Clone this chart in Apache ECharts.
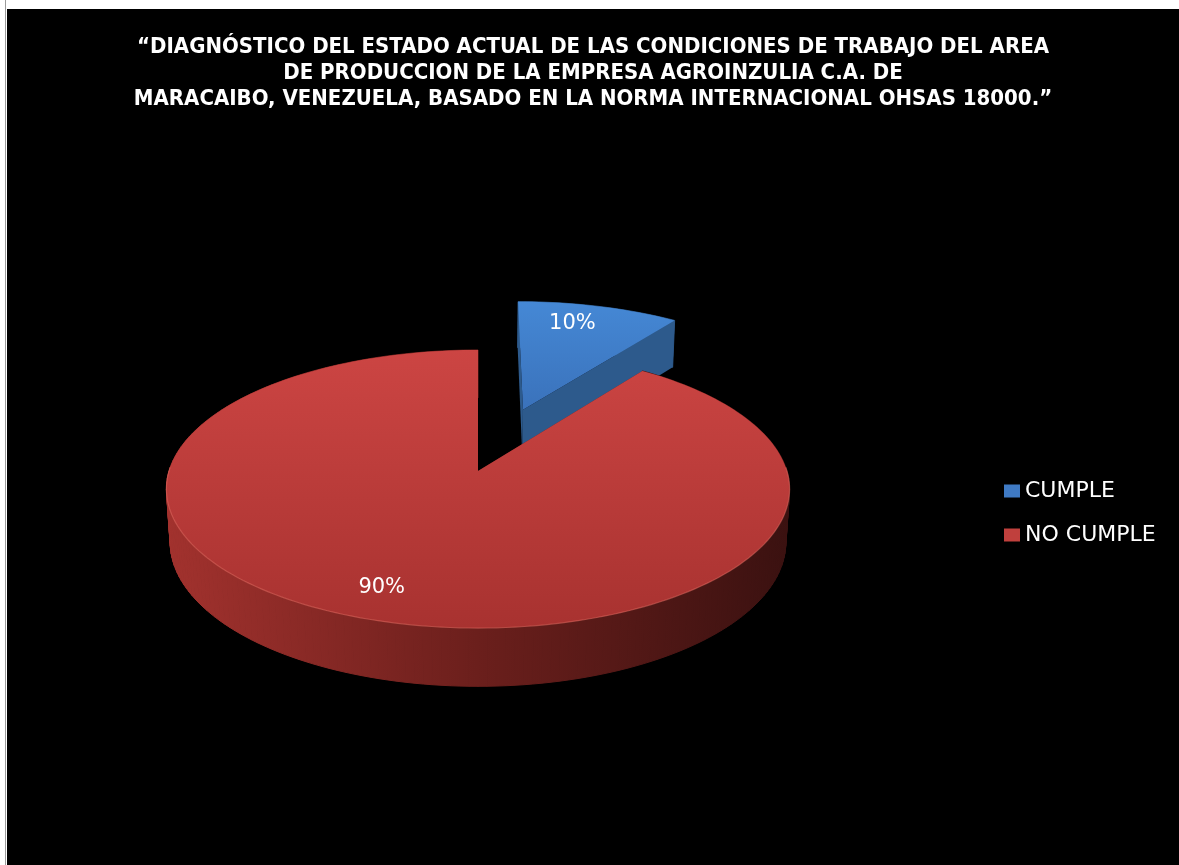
<!DOCTYPE html>
<html>
<head>
<meta charset="utf-8">
<script src="https://cdn.jsdelivr.net/npm/echarts@6/dist/echarts.min.js"></script>
<style>
  html, body { margin: 0; padding: 0; background: #ffffff; }
  #chart { position: absolute; left: 7px; top: 9px; width: 1172px; height: 856px; background: #000; }
  #edge { position: absolute; left: 5px; top: 0; width: 1px; height: 865px; background: #9a9a9a; }
</style>
</head>
<body>
<div id="edge"></div>
<div id="chart"></div>
<script>
// ---- data ----
const categories = ['CUMPLE', 'NO CUMPLE'];
const values = [10, 90];
const titleLines = [
  '\u201CDIAGN\u00D3STICO DEL ESTADO ACTUAL DE LAS CONDICIONES DE TRABAJO DEL AREA',
  'DE PRODUCCION DE LA EMPRESA AGROINZULIA C.A. DE',
  'MARACAIBO, VENEZUELA, BASADO EN LA NORMA INTERNACIONAL OHSAS 18000.\u201D'
];

// ---- style / layout ----
const TITLE_FONT = "'DejaVu Sans Condensed', 'Liberation Sans Narrow', sans-serif";
const TEXT_FONT = "'DejaVu Sans', sans-serif";
const sliceStyle = [
  { top: ['#4588d5', '#3a72bb'], wall: ['#3466a2', '#2d5a8c', '#284f7c'], legend: '#3f7ac4',
    explode: 0.5, labelR: 0.8, labelShift: -3.5 },
  { top: ['#cc4543', '#a83230'], wall: ['#a3322e', '#6b1f1c', '#3a1110'], legend: '#c0403d',
    explode: 0, labelR: 0.82, labelShift: 2 }
];
const view = { cx: 471, cy: 462, F: 2166, kx: 0.99, D: 6.94, C: 0.438, S: 0.899, H: 0.19 };

function proj(u, v, w) {
  const yc = v * view.C + w * view.S;
  const zc = view.D + v * view.S - w * view.C;
  return { x: view.cx + view.kx * view.F * u / zc, y: view.cy - view.F * yc / zc, z: zc };
}

function renderSlice(params, api) {
  const i = params.seriesIndex;
  const st = sliceStyle[i];
  const val = api.value(0);
  const total = values.reduce((a, b) => a + b, 0);
  let cum = 0;
  for (let k = 0; k < i; k++) cum += values[k];
  const a0 = cum / total * Math.PI * 2;
  const a1 = (cum + val) / total * Math.PI * 2;
  const mid = (a0 + a1) / 2;
  const ou = st.explode * Math.sin(mid), ov = st.explode * Math.cos(mid);
  const H = view.H;
  const rim = (t, w) => proj(ou + Math.sin(t), ov + Math.cos(t), w);
  const ctr = (w) => proj(ou, ov, w);

  const steps = Math.max(6, Math.ceil((a1 - a0) / (Math.PI / 120)));
  const angs = [];
  for (let k = 0; k <= steps; k++) angs.push(a0 + (a1 - a0) * k / steps);

  const children = [];
  let z2 = 1;
  const left = view.cx - 315, right = view.cx + 315;
  const wallGrad = () => ({ type: 'linear', x: left, y: 0, x2: right, y2: 0, global: true,
    colorStops: [{ offset: 0, color: st.wall[0] }, { offset: 0.5, color: st.wall[1] }, { offset: 1, color: st.wall[2] }] });
  // outer wall: thin quads, back to front, sharing one horizontal shading
  const quads = [];
  for (let k = 0; k < steps; k++) {
    const p = [rim(angs[k], 0), rim(angs[k + 1], 0), rim(angs[k + 1], -H), rim(angs[k], -H)];
    quads.push({ pts: p, depth: p.reduce((s, q) => s + q.z, 0) / 4 });
  }
  quads.sort((A, B) => B.depth - A.depth);
  quads.forEach(q => {
    children.push({
      type: 'polygon', z2: z2++,
      shape: { points: q.pts.map(p => [p.x, p.y]) },
      style: { fill: wallGrad(), stroke: wallGrad(), lineWidth: 1 }
    });
  });
  // radial (cut) walls
  const cuts = [a0, a1].map(a => {
    const p = [ctr(0), rim(a, 0), rim(a, -H), ctr(-H)];
    return { pts: p, depth: p.reduce((s, q) => s + q.z, 0) / 4 };
  }).sort((A, B) => B.depth - A.depth);
  cuts.forEach(c => {
    children.push({
      type: 'polygon', z2: z2++,
      shape: { points: c.pts.map(p => [p.x, p.y]) },
      style: { fill: st.wall[1] }
    });
  });
  // top face
  const topPts = [ctr(0)].concat(angs.map(a => rim(a, 0))).map(p => [p.x, p.y]);
  children.push({
    type: 'polygon', z2: z2++,
    shape: { points: topPts },
    style: {
      fill: { type: 'linear', x: 0, y: 0, x2: 0, y2: 1,
        colorStops: [{ offset: 0, color: st.top[0] }, { offset: 1, color: st.top[1] }] }
    }
  });
  // subtle highlight along the front rim
  const front = angs.filter(a => Math.cos(a) < 0.05).map(a => { const p = rim(a, 0); return [p.x, p.y]; });
  if (front.length > 1) {
    children.push({
      type: 'polyline', z2: z2++, shape: { points: front },
      style: { stroke: 'rgba(230,110,100,0.5)', lineWidth: 1.2, fill: null }
    });
  }
  // data label
  const la = mid + st.labelShift * Math.PI / 180;
  const lp = proj(ou + st.labelR * Math.sin(la), ov + st.labelR * Math.cos(la), 0);
  children.push({
    type: 'text', z2: z2++,
    style: {
      text: Math.round(val / total * 100) + '%',
      x: lp.x, y: lp.y, align: 'center', verticalAlign: 'middle',
      fill: '#ffffff', font: "21px " + TEXT_FONT
    }
  });
  return { type: 'group', children: children };
}

const chart = echarts.init(document.getElementById('chart'));
chart.setOption({
  backgroundColor: '#000000',
  animation: false,
  title: {
    text: titleLines.join('\n'),
    left: 'center', top: 20,
    textStyle: { color: '#ffffff', fontSize: 22, fontWeight: 'bold', fontFamily: TITLE_FONT, lineHeight: 26 }
  },
  legend: {
    data: categories,
    orient: 'vertical',
    left: 997, top: 471, padding: 0,
    itemWidth: 16, itemHeight: 13, itemGap: 22,
    icon: 'rect',
    textStyle: { color: '#ffffff', fontSize: 22, fontFamily: TEXT_FONT, lineHeight: 22 }
  },
  series: categories.map((name, i) => ({
    type: 'custom',
    name: name,
    coordinateSystem: 'none',
    z: 2 + i,
    itemStyle: { color: sliceStyle[i].legend },
    renderItem: renderSlice,
    data: [[values[i]]]
  }))
});
</script>
</body>
</html>
